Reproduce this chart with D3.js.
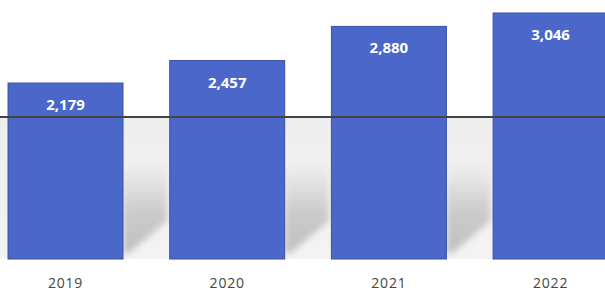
<!DOCTYPE html>
<html><head><meta charset="utf-8">
<script src="https://cdn.jsdelivr.net/npm/d3@7"></script>
<style>html,body{margin:0;padding:0;background:#fff;overflow:hidden}</style>
</head><body>
<script>
const categories = ["2019", "2020", "2021", "2022"];
const values = [2179, 2457, 2880, 3046];
const W = 605, H = 292;
const svg = d3.select("body").append("svg").attr("width", W).attr("height", H);
const x = d3.scaleBand().domain(categories).range([-38.7, 654.8]).paddingInner(0.289).paddingOuter(0.289);
const y = d3.scaleLinear().domain([0, 3046]).range([259, 13]);
const defs = svg.append("defs");
const f = defs.append("filter").attr("id","blur").attr("x","-50%").attr("y","-50%").attr("width","200%").attr("height","200%");
f.append("feGaussianBlur").attr("stdDeviation", 3);
const lg = defs.append("linearGradient").attr("id","bg").attr("x1",0).attr("x2",0).attr("y1",0).attr("y2",1);
lg.append("stop").attr("offset","0%").attr("stop-color","#eeeeee");
lg.append("stop").attr("offset","100%").attr("stop-color","#f3f3f3");
const sg = defs.append("linearGradient").attr("id","sh").attr("x1",0).attr("x2",0).attr("y1",0).attr("y2",1);
sg.append("stop").attr("offset","0%").attr("stop-color","#c6c6c6").attr("stop-opacity",0);
sg.append("stop").attr("offset","55%").attr("stop-color","#c6c6c6").attr("stop-opacity",0.9);
sg.append("stop").attr("offset","100%").attr("stop-color","#c0c0c0").attr("stop-opacity",1);
// light gray background below line
svg.append("rect").attr("x", 0).attr("y", 117).attr("width", W).attr("height", y(0) - 117)
  .attr("fill", "url(#bg)");
// shadows
svg.append("g").selectAll("path").data(categories).join("path")
  .attr("d", d => {
    const x0 = x(d) + x.bandwidth(), b = y(0);
    return `M${x0},${b-95} L${x0+44},${b-95} L${x0+44},${b-38} L${x0+6},${b-6} L${x0},${b-6} Z`;
  })
  .attr("fill", "url(#sh)").attr("filter","url(#blur)");
svg.append("g").selectAll("rect").data(categories).join("rect")
  .attr("x", d => x(d)).attr("y", (d,i) => y(values[i]))
  .attr("width", x.bandwidth()).attr("height", (d,i) => y(0) - y(values[i]))
  .attr("fill", "#4a67c9").attr("stroke", "#3a4fa8").attr("stroke-width", 1);
// horizontal line
svg.append("line").attr("x1", 0).attr("x2", W).attr("y1", 117).attr("y2", 117)
  .attr("stroke", "#444").attr("stroke-width", 2);
svg.append("g").selectAll("text").data(categories).join("text")
  .attr("x", d => x(d) + x.bandwidth()/2).attr("y", (d,i) => y(values[i]) + 27)
  .attr("text-anchor", "middle").attr("fill", "#fff")
  .attr("font-family", "Open Sans, sans-serif").attr("font-weight", "bold").attr("font-size", 15)
  .text((d,i) => d3.format(",")(values[i]));
const axis = d3.axisBottom(x).tickSize(0).tickPadding(0);
const ag = svg.append("g").attr("transform", "translate(0,288)").call(axis);
ag.select(".domain").remove();
ag.selectAll("text").attr("font-family", "Open Sans, sans-serif").attr("font-size", 14)
  .attr("fill", "#444").attr("dy", 0).attr("letter-spacing", 0.8);
</script>
</body></html>
